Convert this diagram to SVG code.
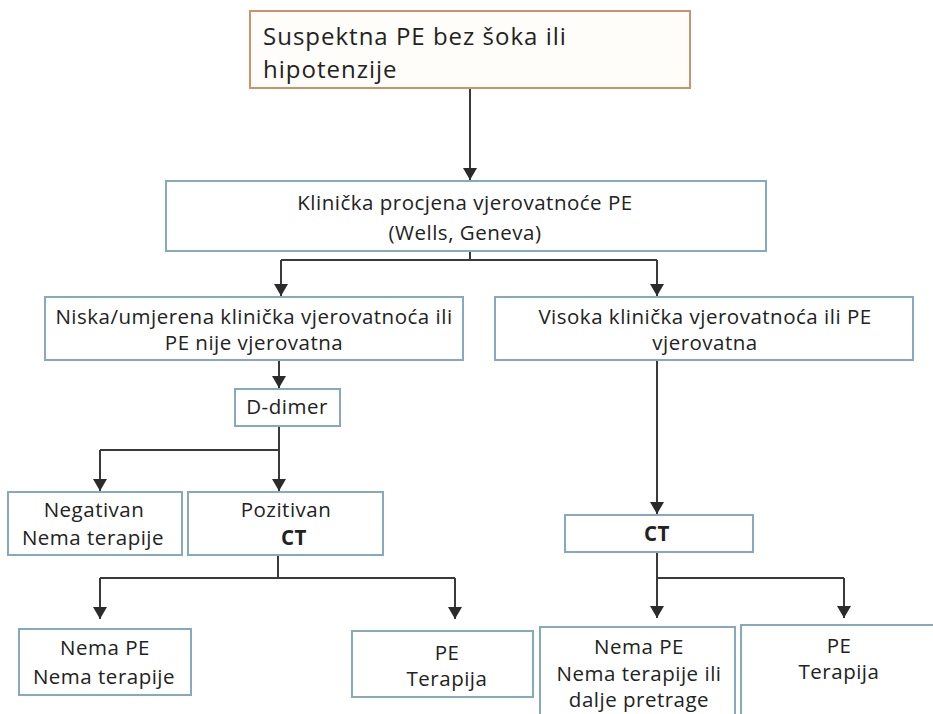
<svg xmlns="http://www.w3.org/2000/svg" width="933" height="714" viewBox="0 0 933 714">
<defs>
<marker id="arr" viewBox="0 0 12 14" refX="12" refY="7" markerWidth="12" markerHeight="14" markerUnits="userSpaceOnUse" orient="auto">
<path d="M0,0 L12,7 L0,14 z" fill="#2b2b2b"/>
</marker>
<style>
.box{fill:#ffffff;stroke:#86a9bf;stroke-width:2}
.top{fill:#fffdf9;stroke:#c9946a;stroke-width:2}
.t{font-family:"Open Sans","Noto Sans","DejaVu Sans",sans-serif;fill:#222;font-size:20.5px;letter-spacing:0.5px;text-anchor:middle}
.b{font-weight:bold}
.c{fill:none;stroke:#3a3a3a;stroke-width:2}
.a{marker-end:url(#arr)}
</style>
</defs>
<rect width="933" height="714" fill="#ffffff"/>
<g id="connectors">
<path class="c a" d="M470,88 V180"/>
<path class="c" d="M470,251 V260 M281,260 H657"/>
<path class="c a" d="M281,260 V296"/>
<path class="c a" d="M657,260 V296"/>
<path class="c a" d="M279,360 V388"/>
<path class="c" d="M279,426 V450 M100,450 H279"/>
<path class="c a" d="M100,450 V491"/>
<path class="c a" d="M279,450 V491"/>
<path class="c" d="M278,555 V578 M100,578 H455"/>
<path class="c a" d="M100,578 V619"/>
<path class="c a" d="M455,578 V619"/>
<path class="c a" d="M657,360 V514"/>
<path class="c" d="M657,552 V578 H844"/>
<path class="c a" d="M657,578 V618"/>
<path class="c a" d="M844,578 V618"/>
</g>
<g id="n-suspektna">
<rect class="top" x="250" y="11" width="440" height="77"/>
<text class="t" x="263" y="45" style="text-anchor:start;font-size:24px;letter-spacing:1px">Suspektna PE bez šoka ili</text>
<text class="t" x="263" y="78" style="text-anchor:start;font-size:24px;letter-spacing:1px">hipotenzije</text>
</g>
<g id="n-klinicka">
<rect class="box" x="166" y="181" width="600" height="70"/>
<text class="t" x="465" y="210">Klinička procjena vjerovatnoće PE</text>
<text class="t" x="465" y="240">(Wells, Geneva)</text>
</g>
<g id="n-niska">
<rect class="box" x="45" y="297" width="418" height="63"/>
<text class="t" x="254" y="324">Niska/umjerena klinička vjerovatnoća ili</text>
<text class="t" x="254" y="350">PE nije vjerovatna</text>
</g>
<g id="n-visoka">
<rect class="box" x="495" y="297" width="418" height="63"/>
<text class="t" x="705" y="324">Visoka klinička vjerovatnoća ili PE</text>
<text class="t" x="705" y="350">vjerovatna</text>
</g>
<g id="n-ddimer">
<rect class="box" x="235" y="389" width="105" height="37"/>
<text class="t" x="287" y="414">D-dimer</text>
</g>
<g id="n-negativan">
<rect class="box" x="8" y="492" width="174" height="63"/>
<text class="t" x="94" y="517">Negativan</text>
<text class="t" x="93" y="545">Nema terapije</text>
</g>
<g id="n-pozitivan">
<rect class="box" x="188" y="492" width="195" height="63"/>
<text class="t" x="286" y="517">Pozitivan</text>
<text class="t b" x="294" y="545">CT</text>
</g>
<g id="n-nemape-l">
<rect class="box" x="19" y="629" width="172" height="66"/>
<text class="t" x="105" y="655">Nema PE</text>
<text class="t" x="104" y="684">Nema terapije</text>
</g>
<g id="n-pe-l">
<rect class="box" x="352" y="631" width="181" height="66"/>
<text class="t" x="447" y="660">PE</text>
<text class="t" x="447" y="686">Terapija</text>
</g>
<g id="n-ct-r">
<rect class="box" x="565" y="515" width="188" height="37"/>
<text class="t b" x="657" y="541">CT</text>
</g>
<g id="n-nemape-r">
<rect class="box" x="540" y="627" width="195" height="92"/>
<text class="t" x="639" y="654">Nema PE</text>
<text class="t" x="639" y="681">Nema terapije ili</text>
<text class="t" x="639" y="707">dalje pretrage</text>
</g>
<g id="n-pe-r">
<rect class="box" x="741" y="625" width="196" height="94"/>
<text class="t" x="839" y="653">PE</text>
<text class="t" x="839" y="679">Terapija</text>
</g>
</svg>
